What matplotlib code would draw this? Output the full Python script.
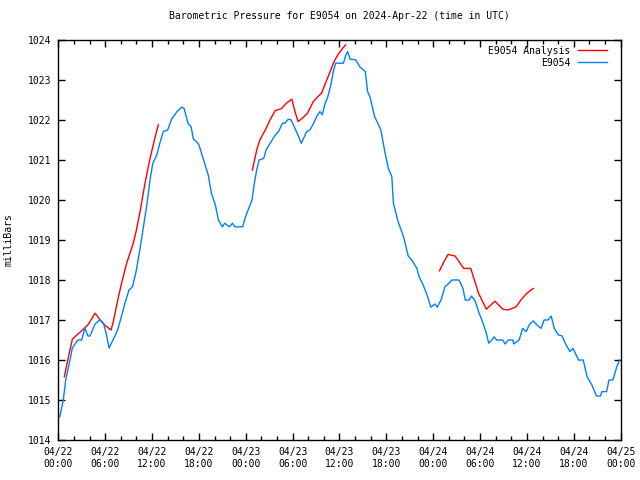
import numpy as np
import matplotlib
matplotlib.use("Agg")
import matplotlib.pyplot as plt
from matplotlib.ticker import MultipleLocator

# hours since 2024-04-22 00:00 UTC, pressure in mb
obs_hours = [0.2, 0.64, 0.95, 1.5, 1.8, 2.5, 3.0, 3.4, 3.8, 4.06, 4.7, 5.3, 5.8, 6.2, 6.5,
             7.0, 7.6, 8.1, 8.5, 9.05, 9.5, 10.0, 10.5, 10.9, 11.3, 11.74, 12.1, 12.6, 13.0,
             13.45, 14.0, 14.5, 15.2, 15.8, 16.1, 16.6, 17.0, 17.3, 17.7, 18.0, 18.6, 19.2,
             19.6, 20.1, 20.5, 21.0, 21.3, 21.9, 22.3, 22.6, 23.6, 23.9, 24.3, 24.8, 25.1,
             25.4, 25.7, 26.3, 26.6, 27.0, 27.75, 28.2, 28.7, 29.0, 29.45, 29.8, 30.3, 30.8,
             31.1, 31.4, 31.8, 32.2, 32.65, 33.1, 33.5, 33.8, 34.1, 34.5, 34.9, 35.2, 35.5,
             36.5, 36.8, 37.05, 37.35, 37.6, 38.1, 38.6, 39.3, 39.6, 39.9, 40.5, 40.9, 41.3,
             41.8, 42.25, 42.7, 42.9, 43.5, 44.2, 44.8, 45.25, 45.9, 46.2, 46.7, 47.2, 47.7,
             48.2, 48.5, 49.0, 49.5, 49.9, 50.4, 51.3, 51.8, 52.1, 52.6, 52.9, 53.4, 53.8,
             54.3, 54.8, 55.1, 55.5, 55.8, 56.1, 56.9, 57.2, 57.6, 58.2, 58.3, 59.0, 59.45,
             59.9, 60.3, 60.8, 61.25, 61.8, 62.2, 62.7, 63.1, 63.5, 64.0, 64.5, 64.9, 65.5,
             65.9, 66.6, 67.2, 67.7, 68.3, 68.9, 69.4, 69.6, 70.2, 70.5, 71.0, 71.5, 71.85]
obs_mb = [1014.58, 1015.0, 1015.5, 1016.0, 1016.3, 1016.5, 1016.5, 1016.8, 1016.6, 1016.6,
          1016.9, 1017.0, 1016.92, 1016.6, 1016.3, 1016.5, 1016.75, 1017.1, 1017.4, 1017.75,
          1017.83, 1018.25, 1018.83, 1019.33, 1019.83, 1020.5, 1020.92, 1021.12, 1021.42,
          1021.71, 1021.75, 1022.02, 1022.21, 1022.32, 1022.29, 1021.92, 1021.83, 1021.52,
          1021.46, 1021.38, 1021.0, 1020.62, 1020.17, 1019.88, 1019.5, 1019.33, 1019.42,
          1019.33, 1019.42, 1019.33, 1019.33, 1019.54, 1019.75, 1020.0, 1020.42, 1020.75,
          1021.0, 1021.04, 1021.25, 1021.38, 1021.62, 1021.71, 1021.92, 1021.92, 1022.02,
          1022.0, 1021.79, 1021.57, 1021.42, 1021.54, 1021.71, 1021.75, 1021.9, 1022.1,
          1022.21, 1022.13, 1022.38, 1022.58, 1022.88, 1023.21, 1023.42, 1023.42, 1023.62,
          1023.71, 1023.52, 1023.52, 1023.5, 1023.33, 1023.21, 1022.71, 1022.58, 1022.08,
          1021.92, 1021.75, 1021.21, 1020.79, 1020.58, 1019.92, 1019.46, 1019.08, 1018.6,
          1018.5, 1018.29, 1018.08, 1017.88, 1017.63, 1017.32, 1017.4, 1017.32, 1017.5,
          1017.83, 1017.9, 1018.0, 1018.0, 1017.79, 1017.5, 1017.5, 1017.6, 1017.46, 1017.21,
          1016.96, 1016.67, 1016.42, 1016.5, 1016.58, 1016.5, 1016.5, 1016.4, 1016.5, 1016.5,
          1016.4, 1016.5, 1016.79, 1016.71, 1016.88, 1016.98, 1016.88, 1016.79, 1017.0,
          1017.0, 1017.1, 1016.79, 1016.63, 1016.6, 1016.42, 1016.21, 1016.29, 1016.0, 1016.0,
          1015.58, 1015.38, 1015.1, 1015.1, 1015.21, 1015.21, 1015.5, 1015.5, 1015.83, 1016.0]

# analysis runs (three separate segments)
ana1_hours = [0.77, 1.3, 1.8, 2.35, 3.1, 3.8, 4.7, 5.3, 5.9, 6.75, 7.0, 7.7, 8.1, 8.75,
              9.6, 10.0, 10.5, 11.1, 11.7, 12.3, 12.8]
ana1_mb = [1015.58, 1016.08, 1016.52, 1016.62, 1016.75, 1016.88, 1017.17, 1017.02, 1016.88,
           1016.75, 1016.92, 1017.58, 1017.92, 1018.42, 1018.92, 1019.25, 1019.75, 1020.42,
           1021.0, 1021.5, 1021.88]
ana2_hours = [24.85, 25.4, 25.8, 26.5, 27.1, 27.75, 28.6, 29.2, 29.9, 30.3, 30.7, 31.4, 31.9,
              32.65, 33.2, 33.7, 34.2, 34.8, 35.3, 35.85, 36.4, 36.8]
ana2_mb = [1020.75, 1021.25, 1021.5, 1021.75, 1022.0, 1022.23, 1022.29, 1022.42, 1022.52,
           1022.21, 1021.96, 1022.07, 1022.17, 1022.46, 1022.58, 1022.67, 1022.92, 1023.21,
           1023.46, 1023.65, 1023.79, 1023.88]
ana3_hours = [48.8, 49.3, 49.9, 50.8, 51.9, 52.8, 53.8, 54.8, 55.9, 56.9, 57.6, 58.6, 59.3,
              60.0, 60.8]
ana3_mb = [1018.23, 1018.43, 1018.64, 1018.6, 1018.29, 1018.29, 1017.67, 1017.27, 1017.47,
           1017.27, 1017.25, 1017.33, 1017.52, 1017.67, 1017.79]

tick_hours = np.arange(0, 73, 6)
tick_labels = ["04/22\n00:00", "04/22\n06:00", "04/22\n12:00", "04/22\n18:00",
               "04/23\n00:00", "04/23\n06:00", "04/23\n12:00", "04/23\n18:00",
               "04/24\n00:00", "04/24\n06:00", "04/24\n12:00", "04/24\n18:00",
               "04/25\n00:00"]

plt.rcParams['font.family'] = ['DejaVu Sans Mono']
plt.rcParams['font.size'] = 7

fig = plt.figure(figsize=(6.4, 4.8), dpi=100)
ax = fig.add_axes([58.3 / 640, 40 / 480, 562.4 / 640, 400 / 480])

red = '#ff0000'
blue = '#0080ff'
ax.plot(ana1_hours, ana1_mb, color=red, lw=1, label='E9054 Analysis')
ax.plot(ana2_hours, ana2_mb, color=red, lw=1)
ax.plot(ana3_hours, ana3_mb, color=red, lw=1)
ax.plot(obs_hours, obs_mb, color=blue, lw=1, label='E9054')

ax.set_xlim(0, 72)
ax.set_ylim(1014, 1024)
ax.set_xticks(tick_hours)
ax.set_xticklabels(tick_labels)
ax.xaxis.set_minor_locator(MultipleLocator(2))
ax.yaxis.set_major_locator(MultipleLocator(1))
ax.tick_params(which='both', direction='in', top=True, right=True, width=1)
ax.tick_params(which='major', length=5, pad=5)
ax.tick_params(which='minor', length=3)
for s in ax.spines.values():
    s.set_linewidth(1)

ax.set_title('Barometric Pressure for E9054 on 2024-Apr-22 (time in UTC)', fontsize=7, pad=15)
ax.set_ylabel('milliBars', labelpad=10)

leg = ax.legend(loc='upper right', bbox_to_anchor=(1 - 8 / 562.4, 1), frameon=False,
                markerfirst=False, handlelength=3.0, borderaxespad=0.2,
                labelspacing=0.2, handletextpad=0.75)
for t in leg.get_texts():
    t.set_ha('right')

fig.savefig('out.png', dpi=100)
